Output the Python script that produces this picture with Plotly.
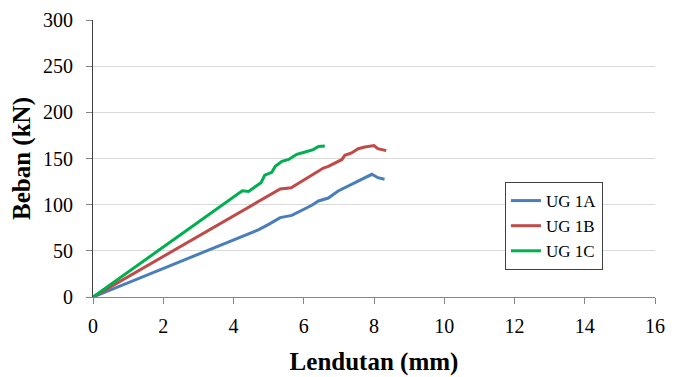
import plotly.graph_objects as go

# UG 1A
x_1a = [0, 4.43, 4.72, 5.0, 5.33, 5.66, 5.94, 6.23, 6.42, 6.7, 6.98, 7.26, 7.55, 7.78, 7.94, 8.11, 8.3]
y_1a = [0, 67.9, 72.9, 78.7, 86.0, 88.4, 93.9, 99.3, 104.0, 107.2, 114.8, 119.9, 125.6, 130.0, 132.9, 129.2, 127.5]
# UG 1B
x_1b = [0, 5.33, 5.64, 5.75, 5.94, 6.13, 6.32, 6.56, 6.7, 6.89, 7.08, 7.17, 7.36, 7.55, 7.74, 8.0, 8.11, 8.35]
y_1b = [0, 117.0, 118.4, 121.0, 125.6, 130.0, 134.0, 139.7, 141.5, 145.5, 148.7, 153.4, 156.0, 160.6, 162.5, 164.0, 160.6, 158.5]
# UG 1C
x_1c = [0, 4.25, 4.43, 4.62, 4.79, 4.89, 5.09, 5.19, 5.38, 5.57, 5.8, 6.04, 6.27, 6.42, 6.6]
y_1c = [0, 115.0, 114.4, 119.0, 124.0, 132.0, 135.0, 141.5, 147.0, 149.0, 154.5, 157.0, 159.6, 163.0, 163.5]

series = [("UG 1A", x_1a, y_1a, "#4A7EBB"),
          ("UG 1B", x_1b, y_1b, "#BE4B48"),
          ("UG 1C", x_1c, y_1c, "#00B050")]

x_ticks = [0, 2, 4, 6, 8, 10, 12, 14, 16]
y_ticks = [0, 50, 100, 150, 200, 250, 300]

fig = go.Figure()
for name, xs, ys, col in series:
    fig.add_trace(go.Scatter(x=xs, y=ys, mode="lines", name=name, legendgroup=name,
                             line=dict(color=col, width=3)))

serif = "Liberation Serif"
tf = dict(family=serif, size=20, color="black")
fig.update_layout(
    template="none",
    width=689, height=377,
    margin=dict(l=85, r=42, t=12, b=88),
    paper_bgcolor="white", plot_bgcolor="white",
    legend=dict(x=0.733, y=0.415, xanchor="left", yanchor="top",
                bordercolor="#404040", borderwidth=1, bgcolor="white",
                font=dict(family=serif, size=17, color="black"), tracegroupgap=0),
)
fig.update_xaxes(range=[0, 16], tickvals=x_ticks, showgrid=False, zeroline=False,
                 showline=True, linecolor="#868686", linewidth=1,
                 ticks="outside", ticklen=6, tickcolor="#868686",
                 tickfont=tf, ticklabelstandoff=5, automargin="bottom",
                 title=dict(text="<b>Lendutan (mm)</b>",
                            font=dict(family=serif, size=25, color="black"), standoff=16))
fig.update_yaxes(range=[0, 300], tickvals=y_ticks, showgrid=True, gridcolor="#D9D9D9",
                 gridwidth=1, zeroline=False, showline=True, linecolor="#404040", linewidth=1,
                 ticks="outside", ticklen=6, tickcolor="#868686",
                 tickfont=tf, ticklabelstandoff=9, automargin="left",
                 title=dict(text="<b>Beban (kN)</b>",
                            font=dict(family=serif, size=25, color="black"), standoff=5))

fig.write_html("out.html")
